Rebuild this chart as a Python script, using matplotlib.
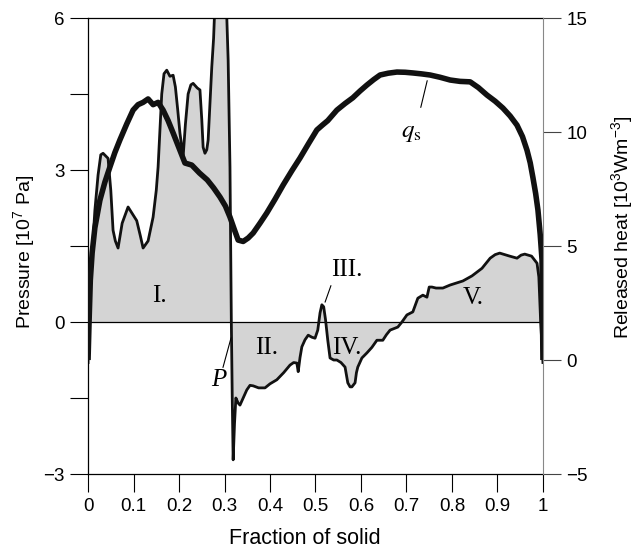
import numpy as np
import matplotlib.pyplot as plt

plt.rcParams['font.family'] = ['Liberation Sans', 'DejaVu Sans']
plt.rcParams['mathtext.fontset'] = 'custom'
plt.rcParams['mathtext.rm'] = 'Liberation Sans'
plt.rcParams['mathtext.it'] = 'Liberation Sans:italic'
plt.rcParams['mathtext.bf'] = 'Liberation Sans:bold'

# Pressure P [10^7 Pa] against fraction of solid
p_x = [0, 0.003, 0.008, 0.015, 0.022, 0.028, 0.033, 0.044, 0.050, 0.055, 0.060,
       0.066, 0.075, 0.088, 0.100, 0.107, 0.115, 0.121, 0.132, 0.143, 0.150,
       0.154, 0.162, 0.167, 0.173, 0.180, 0.187, 0.192, 0.197, 0.202, 0.209,
       0.214, 0.220, 0.226, 0.231, 0.240, 0.246, 0.250, 0.253, 0.257, 0.261,
       0.264, 0.268, 0.272, 0.276, 0.279, 0.285, 0.298, 0.304, 0.308, 0.312,
       0.315, 0.317, 0.319, 0.322, 0.325, 0.330, 0.334, 0.341, 0.349, 0.356,
       0.363, 0.375, 0.389, 0.400, 0.415, 0.430, 0.444, 0.452, 0.459, 0.462,
       0.466, 0.470, 0.477, 0.484, 0.492, 0.499, 0.505, 0.510, 0.514, 0.518,
       0.522, 0.527, 0.532, 0.540, 0.547, 0.556, 0.565, 0.571, 0.576, 0.580,
       0.587, 0.590, 0.593, 0.602, 0.613, 0.624, 0.635, 0.648, 0.656, 0.664,
       0.681, 0.690, 0.701, 0.714, 0.725, 0.736, 0.745, 0.750, 0.756, 0.765,
       0.780, 0.796, 0.824, 0.844, 0.866, 0.884, 0.895, 0.905, 0.916, 0.927,
       0.943, 0.952, 0.960, 0.975, 0.987, 0.991, 0.995, 1.0]
p_y = [-0.8, 0.3, 1.2, 2.2, 2.9, 3.3, 3.33, 3.23, 2.6, 1.81, 1.6,
       1.46, 1.95, 2.27, 2.1, 2.0, 1.7, 1.46, 1.6, 2.07, 2.6,
       3.06, 4.5, 4.9, 4.97, 4.85, 4.87, 4.64, 4.2, 3.73, 3.26,
       3.9, 4.5, 4.68, 4.71, 4.62, 4.58, 4.0, 3.45, 3.33, 3.4,
       3.59, 4.3, 5.03, 5.6, 6.3, 7.0, 7.0, 6.3, 5.17, 3.06,
       0.0, -1.5, -2.72, -2.0, -1.5, -1.6, -1.64, -1.5, -1.34, -1.25,
       -1.26, -1.3, -1.3, -1.22, -1.14, -1.0, -0.85, -0.8, -0.81, -0.98,
       -0.7, -0.49, -0.35, -0.26, -0.3, -0.32, -0.16, 0.18, 0.34, 0.30,
       0.05, -0.36, -0.71, -0.75, -0.75, -0.8, -0.89, -1.2, -1.28, -1.28,
       -1.2, -1.0, -0.89, -0.71, -0.61, -0.5, -0.36, -0.36, -0.25, -0.16,
       -0.1, 0.0, 0.14, 0.2, 0.47, 0.53, 0.49, 0.69, 0.69, 0.67,
       0.67, 0.73, 0.81, 0.91, 1.06, 1.26, 1.33, 1.36, 1.33, 1.3,
       1.26, 1.32, 1.34, 1.3, 1.16, 0.89, 0.0, -0.8]

# Released heat q_s [10^3 W m^-3]
q_x = [0, 0.002, 0.005, 0.009, 0.015, 0.026, 0.037, 0.048, 0.059, 0.070,
       0.085, 0.099, 0.110, 0.121, 0.132, 0.143, 0.154, 0.165, 0.176, 0.187,
       0.200, 0.213, 0.228, 0.245, 0.262, 0.276, 0.290, 0.302, 0.312, 0.322,
       0.330, 0.341, 0.352, 0.363, 0.378, 0.393, 0.411, 0.429, 0.448, 0.466,
       0.485, 0.503, 0.515, 0.527, 0.547, 0.565, 0.582, 0.598, 0.613, 0.628,
       0.642, 0.660, 0.679, 0.697, 0.714, 0.733, 0.752, 0.774, 0.796, 0.818,
       0.840, 0.858, 0.877, 0.895, 0.912, 0.928, 0.943, 0.955, 0.965, 0.972,
       0.978, 0.984, 0.989, 0.994, 0.998, 1.0]
q_y = [0, 1.5, 3.5, 4.7, 5.8, 7.0, 7.8, 8.46, 9.1, 9.65,
       10.35, 10.96, 11.2, 11.3, 11.45, 11.2, 11.3, 10.96, 10.5, 9.96,
       9.3, 8.64, 8.55, 8.2, 7.9, 7.55, 7.15, 6.75, 6.27, 5.7,
       5.26, 5.2, 5.35, 5.57, 6.0, 6.45, 7.05, 7.68, 8.3, 8.86,
       9.5, 10.09, 10.3, 10.5, 10.96, 11.25, 11.5, 11.8, 12.06, 12.3,
       12.5, 12.58, 12.63, 12.62, 12.59, 12.55, 12.5, 12.4, 12.28, 12.22,
       12.2, 11.95, 11.62, 11.35, 11.05, 10.7, 10.3, 9.8, 9.2, 8.65,
       8.0, 7.3, 6.58, 5.5, 4.39, 0]

x_ticks = [0, 0.1, 0.2, 0.3, 0.4, 0.5, 0.6, 0.7, 0.8, 0.9, 1]
x_labels = ['0', '0.1', '0.2', '0.3', '0.4', '0.5', '0.6', '0.7', '0.8', '0.9', '1']

fig = plt.figure(figsize=(6.38, 5.49), dpi=100)
ax = fig.add_axes([0.138, 0.1366, 0.713, 0.8306])
ax2 = ax.twinx()

px = np.array(p_x)
py = np.array(p_y)
ax.fill_between(px, py, 0, color='#d4d4d4', lw=0)
ax.axhline(0, color='black', lw=0.9)
ax.plot(px, py, color='#111111', lw=2.0)
ax2.plot(q_x, q_y, color='#111111', lw=4.0, solid_capstyle='butt')

ax.set_xlim(0, 1)
ax.set_ylim(-3, 6)
ax2.set_ylim(-5, 15)

ax.set_xticks(x_ticks)
ax.set_xticklabels(x_labels)
ax.set_yticks([-3, 0, 3, 6])
ax.set_yticks([-1.5, 1.5, 4.5], minor=True)
ax2.set_yticks([-5, 0, 5, 10, 15])

ax.tick_params(axis='both', which='both', direction='out', length=13, width=0.8,
               labelsize=13.5, pad=4)
ax2.tick_params(axis='y', direction='out', length=13, width=0.8, labelsize=13.5,
                pad=4, color='#444444')

ax.spines['right'].set_visible(False)
for s in ['left', 'top', 'bottom']:
    ax2.spines[s].set_visible(False)
ax2.spines['right'].set_color('#888888')
for s in ['left', 'top', 'bottom']:
    ax.spines[s].set_linewidth(0.9)

ax.set_xlabel('Fraction of solid', fontsize=15.5)
ax.xaxis.set_label_coords(0.477, -0.118)
ax.set_ylabel('Pressure [10$^{7}$ Pa]', fontsize=14)
ax.yaxis.set_label_coords(-0.112, 0.488)
ax2.set_ylabel('Released heat [10$^{3}$Wm$^{-3}$]', fontsize=14)
ax2.yaxis.set_label_coords(1.146, 0.54)

serif = ['Liberation Serif', 'DejaVu Serif']
for txt, xx, yy in [('I.', 0.156, 0.52), ('II.', 0.393, -0.52), ('IV.', 0.569, -0.52),
                    ('V.', 0.846, 0.47), ('III.', 0.569, 1.03)]:
    ax.text(xx, yy, txt, family=serif, fontsize=18, ha='center', va='center')

ax.text(0.287, -1.14, 'P', family=serif, style='italic', fontsize=18,
        ha='center', va='center')
ax.annotate('', xy=(0.316, -0.26), xytext=(0.295, -0.95),
            arrowprops=dict(arrowstyle='-', lw=0.8, color='black'))
ax.annotate('', xy=(0.519, 0.34), xytext=(0.536, 0.77),
            arrowprops=dict(arrowstyle='-', lw=0.8, color='black'))
ax2.annotate('', xy=(0.747, 12.37), xytext=(0.730, 10.96),
             arrowprops=dict(arrowstyle='-', lw=0.8, color='black'))
ax2.text(0.71, 10.0, r'$q_\mathrm{s}$', math_fontfamily='stix', fontsize=18,
         ha='center', va='center')

fig.savefig('out.png', dpi=100)
